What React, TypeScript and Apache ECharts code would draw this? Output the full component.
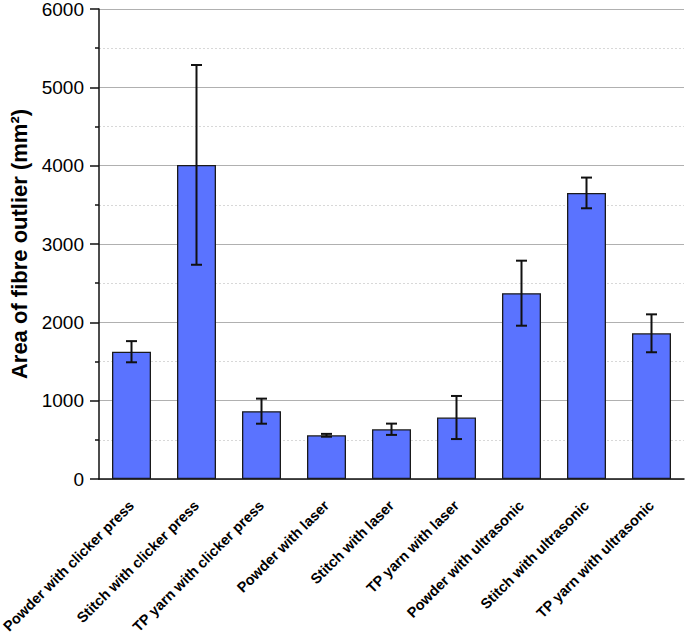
import React, { useEffect, useRef } from "react";
import * as echarts from "echarts";

const categories = [
  "Powder with clicker press",
  "Stitch with clicker press",
  "TP yarn with clicker press",
  "Powder with laser",
  "Stitch with laser",
  "TP yarn with laser",
  "Powder with ultrasonic",
  "Stitch with ultrasonic",
  "TP yarn with ultrasonic",
];
const means = [1625, 4010, 866, 558, 635, 785, 2372, 3652, 1860];
const errors = [135, 1275, 160, 18, 72, 275, 415, 196, 242];
const yTicks = [0, 1000, 2000, 3000, 4000, 5000, 6000];

const FONT = "Liberation Sans, Arial, sans-serif";

export default function App() {
  const ref = useRef<HTMLDivElement>(null);
  useEffect(() => {
    if (!ref.current) return;
    const chart = echarts.init(ref.current, null, { renderer: "svg" });
    const errData = means.map((m, i) => [i, m - errors[i], m + errors[i]]);
    chart.setOption({
      animation: false,
      grid: { left: 99, right: 1, top: 9, bottom: 163, containLabel: false, outerBoundsMode: "none" },
      xAxis: [
        {
          type: "category",
          data: categories,
          position: "bottom",
          axisLine: { lineStyle: { color: "#111", width: 1.5 } },
          axisTick: { alignWithLabel: true, length: 8, interval: 0, lineStyle: { color: "#111", width: 1.5 } },
          axisLabel: {
            interval: 0,
            rotate: 45,
            margin: 24,
            fontFamily: FONT,
            fontWeight: "bold",
            fontSize: 14.5,
            color: "#000",
          },
        },
        {
          type: "category",
          data: categories,
          position: "bottom",
          axisLine: { show: false },
          axisTick: { length: 4, interval: 0, lineStyle: { color: "#111", width: 1.5 } },
          axisLabel: { show: false },
        },
      ],
      yAxis: {
        type: "value",
        min: yTicks[0],
        max: yTicks[yTicks.length - 1],
        interval: 1000,
        name: "Area of fibre outlier (mm²)",
        nameLocation: "middle",
        nameGap: 65,
        nameTextStyle: { fontFamily: FONT, fontWeight: "bold", fontSize: 22, color: "#000" },
        axisLine: { show: true, lineStyle: { color: "#111", width: 1.5 } },
        axisTick: { show: true, length: 9, lineStyle: { color: "#111", width: 1.5 } },
        minorTick: { show: true, splitNumber: 2, length: 4, lineStyle: { color: "#111", width: 1.5 } },
        axisLabel: {
          margin: 15,
          fontFamily: FONT,
          fontSize: 19,
          color: "#000",
          formatter: (v: number) => String(v),
        },
        splitLine: { show: true, lineStyle: { color: "#b0b0b0", width: 1 } },
        minorSplitLine: { show: true, lineStyle: { color: "#d8d8d8", width: 1, type: [2, 2] } },
      },
      series: [
        {
          type: "bar",
          data: means,
          barWidth: "60%",
          itemStyle: { color: "#5A73FF", borderColor: "#1a1a1a", borderWidth: 1.3 },
          z: 2,
        },
        {
          type: "custom",
          data: errData,
          encode: { x: 0, y: [1, 2] },
          z: 3,
          renderItem: (params: any, api: any) => {
            const x = api.value(0);
            const lo = api.coord([x, api.value(1)]);
            const hi = api.coord([x, api.value(2)]);
            const hw = 5.5;
            const style = { stroke: "#111", lineWidth: 2 };
            return {
              type: "group",
              children: [
                { type: "line", shape: { x1: lo[0], y1: lo[1], x2: hi[0], y2: hi[1] }, style },
                { type: "line", shape: { x1: hi[0] - hw, y1: hi[1], x2: hi[0] + hw, y2: hi[1] }, style },
                { type: "line", shape: { x1: lo[0] - hw, y1: lo[1], x2: lo[0] + hw, y2: lo[1] }, style },
              ],
            };
          },
        },
      ],
    });
    return () => chart.dispose();
  }, []);
  return (
    <div
      ref={ref}
      style={{ position: "fixed", left: 0, top: 0, width: 685, height: 642, background: "#fff" }}
    />
  );
}
